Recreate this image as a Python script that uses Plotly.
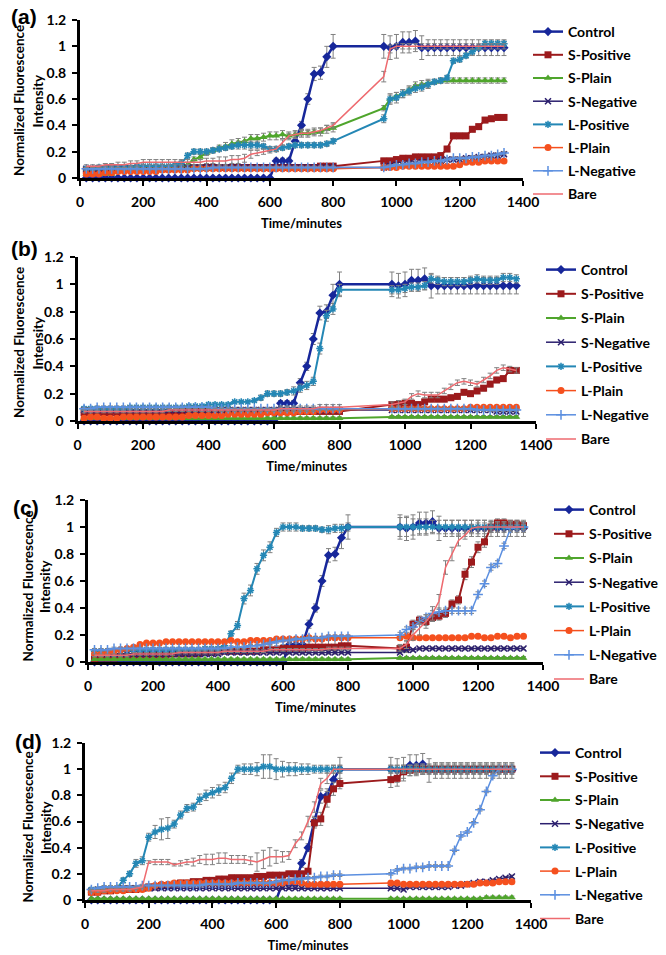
import plotly.graph_objects as go

# ---------------- data ----------------
TIME = [20, 40, 60, 80, 100, 120, 140, 160, 180, 200, 220, 240, 260, 280, 300, 320, 340, 360, 380, 400,
        420, 440, 460, 480, 500, 520, 540, 560, 580, 600, 620, 640, 660, 680, 700, 720, 740, 760, 780, 800,
        960, 980, 1000, 1020, 1040, 1060, 1080, 1100, 1120, 1140, 1160, 1180, 1200, 1220, 1240, 1260, 1280, 1300, 1320, 1340]

SERIES = ["Control", "S-Positive", "S-Plain", "S-Negative", "L-Positive", "L-Plain", "L-Negative", "Bare"]
X_TICKS = [0, 200, 400, 600, 800, 1000, 1200, 1400]
Y_TICKS = [0, 0.2, 0.4, 0.6, 0.8, 1, 1.2]
PANEL_LABELS = ["(a)", "(b)", "(c)", "(d)"]
X_TITLE = "Time/minutes"
Y_TITLE_LINES = ["Normalized Fluorescence", "Intensity"]

CONTROL = [0, 0, 0, 0, 0, 0, 0, 0, 0, 0, 0, 0, 0, 0, 0, 0, 0, 0, 0, 0,
           0, 0, 0, 0, 0, 0, 0, 0, 0, 0, 0.13, 0.13, 0.13, 0.28, 0.40, 0.60, 0.79, 0.80, 0.92, 1.00,
           1.00, 0.99, 1.00, 1.03, 1.03, 1.04, 0.99, 0.99, 0.99, 0.99, 0.99, 0.99, 0.99, 0.99, 0.99, 0.99, 0.99, 0.99, 0.99, 0.99]
CONTROL_ERR = [0.01, 0.01, 0.01, 0.01, 0.01, 0.01, 0.01, 0.01, 0.01, 0.01, 0.01, 0.01, 0.01, 0.01, 0.01, 0.01, 0.01, 0.01, 0.01, 0.01,
               0.01, 0.01, 0.01, 0.01, 0.01, 0.01, 0.01, 0.01, 0.01, 0.01, 0.02, 0.02, 0.02, 0.03, 0.03, 0.04, 0.05, 0.05, 0.08, 0.09,
               0.09, 0.09, 0.09, 0.08, 0.08, 0.08, 0.09, 0.06, 0.06, 0.06, 0.06, 0.06, 0.06, 0.06, 0.06, 0.06, 0.06, 0.06, 0.06, 0.06]

# ----- panel (a)
A_SPOS = [0.06, 0.06, 0.07, 0.07, 0.07, 0.07, 0.07, 0.07, 0.07, 0.07, 0.07, 0.07, 0.07, 0.07, 0.08, 0.08, 0.08, 0.08, 0.08, 0.08,
          0.08, 0.08, 0.08, 0.08, 0.08, 0.08, 0.08, 0.08, 0.08, 0.08, 0.08, 0.08, 0.08, 0.08, 0.08, 0.08, 0.08, 0.09, 0.09, 0.09,
          0.13, 0.13, 0.14, 0.15, 0.15, 0.16, 0.16, 0.16, 0.16, 0.17, 0.22, 0.32, 0.32, 0.32, 0.37, 0.39, 0.44, 0.45, 0.46, 0.46]
A_SPOS_ERR = [0.01, 0.01, 0.01, 0.01, 0.01, 0.01, 0.01, 0.01, 0.01, 0.01, 0.01, 0.01, 0.01, 0.01, 0.01, 0.01, 0.01, 0.01, 0.01, 0.01,
              0.01, 0.01, 0.01, 0.01, 0.01, 0.01, 0.01, 0.01, 0.01, 0.01, 0.01, 0.01, 0.01, 0.01, 0.01, 0.01, 0.01, 0.01, 0.01, 0.01,
              0.02, 0.02, 0.02, 0.02, 0.02, 0.02, 0.02, 0.02, 0.02, 0.02, 0.02, 0.02, 0.02, 0.02, 0.02, 0.02, 0.02, 0.02, 0.02, 0.02]
A_SPLN = [0.03, 0.03, 0.03, 0.03, 0.03, 0.05, 0.06, 0.06, 0.06, 0.06, 0.06, 0.07, 0.07, 0.07, 0.07, 0.08, 0.10, 0.14, 0.16, 0.19,
          0.21, 0.23, 0.24, 0.26, 0.27, 0.28, 0.30, 0.30, 0.31, 0.32, 0.32, 0.33, 0.32, 0.33, 0.34, 0.34, 0.35, 0.35, 0.37, 0.38,
          0.53, 0.60, 0.62, 0.64, 0.67, 0.70, 0.71, 0.72, 0.73, 0.74, 0.74, 0.74, 0.74, 0.74, 0.74, 0.74, 0.74, 0.74, 0.74, 0.74]
A_SPLN_ERR = [0.01, 0.01, 0.01, 0.01, 0.01, 0.01, 0.01, 0.01, 0.01, 0.01, 0.01, 0.01, 0.01, 0.01, 0.01, 0.01, 0.02, 0.02, 0.02, 0.02,
              0.02, 0.02, 0.03, 0.03, 0.03, 0.03, 0.03, 0.03, 0.03, 0.03, 0.03, 0.03, 0.03, 0.03, 0.03, 0.03, 0.03, 0.03, 0.03, 0.03,
              0.02, 0.03, 0.03, 0.03, 0.03, 0.03, 0.03, 0.03, 0.02, 0.02, 0.02, 0.02, 0.02, 0.02, 0.02, 0.02, 0.02, 0.02, 0.02, 0.02]
A_SNEG = [0.07, 0.07, 0.07, 0.07, 0.07, 0.07, 0.07, 0.07, 0.07, 0.07, 0.07, 0.07, 0.07, 0.07, 0.07, 0.08, 0.08, 0.08, 0.08, 0.08,
          0.08, 0.08, 0.08, 0.08, 0.08, 0.08, 0.08, 0.08, 0.08, 0.08, 0.08, 0.08, 0.08, 0.08, 0.08, 0.08, 0.08, 0.08, 0.08, 0.08,
          0.08, 0.09, 0.10, 0.10, 0.11, 0.11, 0.12, 0.12, 0.12, 0.13, 0.14, 0.14, 0.14, 0.15, 0.15, 0.16, 0.16, 0.17, 0.17, 0.18]
A_SNEG_ERR = [0.01, 0.01, 0.01, 0.01, 0.01, 0.01, 0.01, 0.01, 0.01, 0.01, 0.01, 0.01, 0.01, 0.01, 0.01, 0.01, 0.01, 0.01, 0.01, 0.01,
              0.01, 0.01, 0.01, 0.01, 0.01, 0.01, 0.01, 0.01, 0.01, 0.01, 0.01, 0.01, 0.01, 0.01, 0.01, 0.01, 0.01, 0.01, 0.01, 0.01,
              0.01, 0.01, 0.01, 0.01, 0.01, 0.01, 0.01, 0.01, 0.01, 0.01, 0.01, 0.01, 0.01, 0.01, 0.01, 0.01, 0.01, 0.01, 0.01, 0.01]
A_LPOS = [0.07, 0.07, 0.08, 0.08, 0.08, 0.08, 0.08, 0.08, 0.09, 0.09, 0.09, 0.09, 0.09, 0.09, 0.10, 0.11, 0.17, 0.20, 0.20, 0.20,
          0.21, 0.22, 0.23, 0.24, 0.25, 0.25, 0.25, 0.25, 0.24, 0.22, 0.22, 0.23, 0.24, 0.25, 0.25, 0.25, 0.25, 0.25, 0.26, 0.28,
          0.45, 0.60, 0.61, 0.64, 0.66, 0.68, 0.69, 0.71, 0.73, 0.74, 0.76, 0.89, 0.90, 0.93, 0.96, 0.99, 1.02, 1.02, 1.02, 1.02]
A_LPOS_ERR = [0.01, 0.01, 0.01, 0.01, 0.01, 0.01, 0.01, 0.01, 0.01, 0.01, 0.01, 0.01, 0.01, 0.01, 0.01, 0.02, 0.02, 0.02, 0.02, 0.02,
              0.02, 0.02, 0.02, 0.02, 0.03, 0.03, 0.03, 0.03, 0.02, 0.02, 0.02, 0.02, 0.02, 0.02, 0.02, 0.02, 0.02, 0.02, 0.02, 0.02,
              0.03, 0.04, 0.04, 0.03, 0.03, 0.03, 0.03, 0.03, 0.02, 0.02, 0.02, 0.02, 0.02, 0.02, 0.02, 0.02, 0.02, 0.02, 0.02, 0.02]
A_LPLN = [0.03, 0.03, 0.03, 0.04, 0.04, 0.05, 0.05, 0.05, 0.05, 0.05, 0.05, 0.05, 0.06, 0.06, 0.06, 0.06, 0.06, 0.07, 0.07, 0.07,
          0.07, 0.07, 0.07, 0.07, 0.07, 0.07, 0.07, 0.07, 0.07, 0.07, 0.07, 0.07, 0.07, 0.07, 0.07, 0.07, 0.07, 0.07, 0.07, 0.07,
          0.08, 0.08, 0.08, 0.09, 0.09, 0.09, 0.09, 0.09, 0.09, 0.09, 0.09, 0.09, 0.10, 0.12, 0.12, 0.12, 0.13, 0.13, 0.13, 0.13]
A_LPLN_ERR = A_SNEG_ERR
A_LNEG = [0.07, 0.07, 0.07, 0.07, 0.07, 0.07, 0.07, 0.07, 0.07, 0.07, 0.07, 0.07, 0.07, 0.07, 0.07, 0.07, 0.07, 0.07, 0.07, 0.07,
          0.08, 0.08, 0.08, 0.08, 0.08, 0.08, 0.08, 0.08, 0.08, 0.08, 0.08, 0.08, 0.08, 0.08, 0.08, 0.08, 0.08, 0.08, 0.08, 0.08,
          0.08, 0.09, 0.10, 0.10, 0.11, 0.11, 0.12, 0.12, 0.13, 0.13, 0.14, 0.15, 0.15, 0.15, 0.16, 0.16, 0.17, 0.17, 0.18, 0.19]
A_LNEG_ERR = A_SNEG_ERR
A_BARE = [0.09, 0.09, 0.09, 0.10, 0.10, 0.10, 0.10, 0.11, 0.11, 0.12, 0.12, 0.12, 0.12, 0.12, 0.12, 0.12, 0.12, 0.12, 0.12, 0.13,
          0.13, 0.13, 0.13, 0.14, 0.14, 0.15, 0.18, 0.19, 0.20, 0.21, 0.22, 0.27, 0.32, 0.33, 0.34, 0.34, 0.35, 0.36, 0.38, 0.40,
          0.77, 0.98, 1.00, 1.00, 1.00, 1.00, 1.00, 1.00, 1.00, 1.00, 1.00, 1.00, 1.00, 1.00, 1.00, 1.00, 1.00, 1.00, 1.00, 1.00]
A_BARE_ERR = [0.01, 0.01, 0.01, 0.01, 0.01, 0.02, 0.02, 0.02, 0.02, 0.02, 0.02, 0.02, 0.02, 0.02, 0.02, 0.02, 0.02, 0.02, 0.02, 0.02,
              0.02, 0.03, 0.03, 0.03, 0.03, 0.03, 0.03, 0.02, 0.02, 0.02, 0.02, 0.02, 0.02, 0.02, 0.02, 0.02, 0.02, 0.02, 0.02, 0.02,
              0.04, 0.03, 0.02, 0.02, 0.02, 0.02, 0.02, 0.02, 0.02, 0.02, 0.02, 0.02, 0.02, 0.02, 0.02, 0.02, 0.02, 0.02, 0.02, 0.02]

# ----- panel (b)
B_SPOS = [0.06, 0.06, 0.06, 0.06, 0.06, 0.06, 0.06, 0.06, 0.06, 0.06, 0.06, 0.06, 0.06, 0.06, 0.06, 0.07, 0.07, 0.07, 0.07, 0.07,
          0.07, 0.07, 0.07, 0.07, 0.07, 0.07, 0.07, 0.07, 0.07, 0.07, 0.07, 0.07, 0.07, 0.07, 0.07, 0.07, 0.07, 0.07, 0.07, 0.07,
          0.12, 0.12, 0.13, 0.13, 0.12, 0.14, 0.16, 0.16, 0.16, 0.17, 0.18, 0.21, 0.20, 0.22, 0.24, 0.27, 0.30, 0.31, 0.37, 0.37]
B_SPOS_ERR = A_SPOS_ERR
B_SPLN = [0.02, 0.02, 0.02, 0.02, 0.02, 0.02, 0.02, 0.02, 0.02, 0.02, 0.02, 0.02, 0.02, 0.02, 0.02, 0.02, 0.02, 0.02, 0.02, 0.02,
          0.02, 0.02, 0.02, 0.02, 0.02, 0.02, 0.02, 0.02, 0.02, 0.02, 0.02, 0.02, 0.02, 0.02, 0.02, 0.02, 0.02, 0.02, 0.02, 0.02,
          0.03, 0.03, 0.03, 0.03, 0.03, 0.03, 0.03, 0.03, 0.03, 0.03, 0.03, 0.03, 0.03, 0.03, 0.03, 0.03, 0.03, 0.03, 0.03, 0.03]
B_SPLN_ERR = A_SNEG_ERR
B_SNEG = [0.08, 0.08, 0.08, 0.08, 0.08, 0.08, 0.08, 0.08, 0.08, 0.08, 0.08, 0.08, 0.08, 0.08, 0.08, 0.08, 0.08, 0.08, 0.08, 0.08,
          0.08, 0.08, 0.08, 0.08, 0.08, 0.08, 0.08, 0.08, 0.08, 0.08, 0.08, 0.08, 0.08, 0.08, 0.08, 0.08, 0.08, 0.08, 0.08, 0.08,
          0.08, 0.08, 0.08, 0.08, 0.08, 0.08, 0.08, 0.08, 0.08, 0.08, 0.08, 0.08, 0.08, 0.08, 0.08, 0.08, 0.07, 0.07, 0.07, 0.07]
B_SNEG_ERR = A_SNEG_ERR
B_LPOS = [0.09, 0.09, 0.09, 0.09, 0.09, 0.09, 0.09, 0.10, 0.10, 0.10, 0.10, 0.10, 0.10, 0.10, 0.10, 0.10, 0.11, 0.11, 0.11, 0.12,
          0.12, 0.12, 0.12, 0.14, 0.14, 0.14, 0.15, 0.17, 0.20, 0.20, 0.20, 0.21, 0.22, 0.24, 0.26, 0.29, 0.53, 0.77, 0.82, 0.96,
          0.96, 0.96, 0.97, 0.98, 0.98, 0.99, 1.04, 1.03, 1.02, 1.02, 1.02, 1.02, 1.03, 1.04, 1.03, 1.03, 1.03, 1.05, 1.05, 1.04]
B_LPOS_ERR = [0.01, 0.01, 0.01, 0.01, 0.01, 0.01, 0.01, 0.01, 0.01, 0.01, 0.01, 0.01, 0.01, 0.01, 0.01, 0.01, 0.01, 0.01, 0.01, 0.01,
              0.01, 0.01, 0.01, 0.01, 0.01, 0.01, 0.01, 0.02, 0.02, 0.02, 0.02, 0.02, 0.03, 0.03, 0.03, 0.03, 0.04, 0.04, 0.04, 0.04,
              0.03, 0.03, 0.03, 0.03, 0.03, 0.03, 0.03, 0.03, 0.03, 0.03, 0.03, 0.03, 0.03, 0.03, 0.03, 0.03, 0.03, 0.03, 0.03, 0.03]
B_LPLN = [0.02, 0.03, 0.03, 0.02, 0.02, 0.02, 0.03, 0.03, 0.03, 0.03, 0.03, 0.03, 0.03, 0.03, 0.03, 0.03, 0.04, 0.04, 0.04, 0.04,
          0.04, 0.04, 0.05, 0.05, 0.05, 0.05, 0.05, 0.05, 0.06, 0.06, 0.06, 0.06, 0.06, 0.07, 0.07, 0.07, 0.08, 0.08, 0.08, 0.08,
          0.09, 0.09, 0.09, 0.09, 0.09, 0.09, 0.09, 0.09, 0.09, 0.09, 0.09, 0.09, 0.10, 0.10, 0.10, 0.10, 0.10, 0.10, 0.10, 0.10]
B_LPLN_ERR = A_SNEG_ERR
B_LNEG = [0.09, 0.09, 0.10, 0.10, 0.10, 0.10, 0.10, 0.10, 0.10, 0.10, 0.10, 0.10, 0.10, 0.10, 0.10, 0.10, 0.10, 0.10, 0.10, 0.10,
          0.09, 0.09, 0.09, 0.09, 0.09, 0.09, 0.09, 0.09, 0.09, 0.09, 0.09, 0.09, 0.09, 0.09, 0.09, 0.09, 0.09, 0.09, 0.09, 0.09,
          0.09, 0.09, 0.09, 0.09, 0.09, 0.09, 0.09, 0.09, 0.09, 0.09, 0.09, 0.09, 0.09, 0.08, 0.08, 0.08, 0.08, 0.08, 0.08, 0.08]
B_LNEG_ERR = A_SNEG_ERR
B_BARE = [0.07, 0.07, 0.07, 0.07, 0.07, 0.07, 0.07, 0.07, 0.07, 0.07, 0.07, 0.07, 0.07, 0.08, 0.08, 0.08, 0.08, 0.08, 0.08, 0.08,
          0.08, 0.08, 0.08, 0.08, 0.08, 0.08, 0.08, 0.08, 0.08, 0.08, 0.09, 0.09, 0.09, 0.09, 0.09, 0.09, 0.10, 0.10, 0.10, 0.10,
          0.12, 0.13, 0.14, 0.18, 0.20, 0.19, 0.19, 0.19, 0.22, 0.25, 0.28, 0.29, 0.28, 0.27, 0.30, 0.33, 0.37, 0.39, 0.38, 0.37]
B_BARE_ERR = [0.01, 0.01, 0.01, 0.01, 0.01, 0.01, 0.01, 0.01, 0.01, 0.01, 0.01, 0.01, 0.01, 0.01, 0.01, 0.01, 0.01, 0.01, 0.01, 0.01,
              0.01, 0.01, 0.01, 0.01, 0.01, 0.01, 0.01, 0.01, 0.01, 0.01, 0.02, 0.02, 0.02, 0.02, 0.02, 0.02, 0.02, 0.02, 0.02, 0.02,
              0.02, 0.02, 0.02, 0.02, 0.02, 0.02, 0.02, 0.02, 0.02, 0.02, 0.02, 0.02, 0.02, 0.02, 0.02, 0.02, 0.02, 0.02, 0.02, 0.02]

# ----- panel (c)
C_SPOS = [0.02, 0.03, 0.03, 0.03, 0.04, 0.04, 0.04, 0.05, 0.05, 0.05, 0.05, 0.05, 0.06, 0.06, 0.06, 0.06, 0.06, 0.07, 0.07, 0.08,
          0.08, 0.08, 0.08, 0.08, 0.08, 0.08, 0.09, 0.09, 0.09, 0.10, 0.10, 0.10, 0.10, 0.11, 0.11, 0.11, 0.11, 0.11, 0.12, 0.12,
          0.10, 0.11, 0.28, 0.31, 0.30, 0.33, 0.34, 0.36, 0.43, 0.46, 0.65, 0.74, 0.85, 0.89, 1.00, 1.03, 1.03, 1.02, 1.02, 1.01]
C_SPOS_ERR = [0.01, 0.01, 0.01, 0.01, 0.01, 0.01, 0.01, 0.01, 0.01, 0.01, 0.01, 0.01, 0.01, 0.01, 0.01, 0.01, 0.01, 0.01, 0.02, 0.02,
              0.02, 0.02, 0.02, 0.02, 0.02, 0.02, 0.02, 0.03, 0.03, 0.03, 0.04, 0.04, 0.04, 0.04, 0.05, 0.05, 0.05, 0.05, 0.05, 0.05,
              0.03, 0.04, 0.03, 0.03, 0.03, 0.03, 0.03, 0.03, 0.03, 0.03, 0.04, 0.04, 0.04, 0.04, 0.04, 0.03, 0.03, 0.03, 0.03, 0.03]
C_SPLN = B_SPLN
C_SPLN_ERR = A_SNEG_ERR
C_SNEG = [0.06, 0.06, 0.06, 0.06, 0.06, 0.06, 0.06, 0.06, 0.06, 0.06, 0.06, 0.06, 0.06, 0.06, 0.06, 0.06, 0.06, 0.06, 0.06, 0.06,
          0.07, 0.07, 0.07, 0.07, 0.07, 0.07, 0.07, 0.07, 0.07, 0.07, 0.07, 0.07, 0.07, 0.07, 0.07, 0.07, 0.07, 0.07, 0.07, 0.07,
          0.07, 0.09, 0.09, 0.10, 0.10, 0.10, 0.10, 0.10, 0.10, 0.10, 0.10, 0.10, 0.10, 0.10, 0.10, 0.10, 0.10, 0.10, 0.10, 0.10]
C_SNEG_ERR = A_SNEG_ERR
C_LPOS = [0.08, 0.08, 0.08, 0.08, 0.09, 0.09, 0.09, 0.09, 0.09, 0.09, 0.09, 0.09, 0.09, 0.09, 0.09, 0.09, 0.09, 0.10, 0.10, 0.10,
          0.12, 0.21, 0.27, 0.47, 0.53, 0.69, 0.79, 0.85, 0.96, 1.00, 1.00, 1.00, 0.99, 0.99, 0.99, 0.98, 0.98, 0.99, 0.99, 1.00,
          1.00, 1.00, 1.00, 1.00, 1.00, 1.00, 1.00, 1.00, 1.00, 1.00, 1.00, 1.00, 1.00, 1.00, 1.00, 1.00, 1.00, 1.00, 1.00, 1.00]
C_LPOS_ERR = [0.01, 0.01, 0.01, 0.01, 0.01, 0.01, 0.01, 0.01, 0.01, 0.01, 0.01, 0.01, 0.01, 0.01, 0.01, 0.01, 0.01, 0.01, 0.01, 0.01,
              0.02, 0.02, 0.03, 0.04, 0.04, 0.04, 0.04, 0.04, 0.03, 0.03, 0.03, 0.03, 0.02, 0.02, 0.02, 0.02, 0.03, 0.03, 0.03, 0.03,
              0.07, 0.07, 0.06, 0.06, 0.06, 0.05, 0.05, 0.05, 0.05, 0.05, 0.05, 0.05, 0.05, 0.05, 0.04, 0.04, 0.04, 0.04, 0.04, 0.04]
C_LPLN = [0.06, 0.06, 0.07, 0.08, 0.09, 0.10, 0.11, 0.13, 0.14, 0.14, 0.14, 0.15, 0.15, 0.15, 0.15, 0.15, 0.15, 0.15, 0.15, 0.15,
          0.15, 0.16, 0.15, 0.15, 0.16, 0.16, 0.16, 0.16, 0.17, 0.17, 0.17, 0.17, 0.17, 0.18, 0.17, 0.17, 0.18, 0.18, 0.18, 0.18,
          0.18, 0.19, 0.18, 0.18, 0.18, 0.18, 0.18, 0.18, 0.18, 0.18, 0.18, 0.19, 0.19, 0.18, 0.18, 0.19, 0.19, 0.18, 0.19, 0.19]
C_LPLN_ERR = A_SNEG_ERR
C_LNEG = [0.09, 0.09, 0.09, 0.10, 0.10, 0.10, 0.10, 0.10, 0.10, 0.10, 0.10, 0.10, 0.10, 0.10, 0.10, 0.10, 0.10, 0.10, 0.10, 0.10,
          0.10, 0.11, 0.11, 0.11, 0.12, 0.12, 0.13, 0.14, 0.15, 0.16, 0.16, 0.17, 0.17, 0.18, 0.18, 0.18, 0.19, 0.19, 0.19, 0.19,
          0.20, 0.24, 0.26, 0.30, 0.33, 0.36, 0.37, 0.38, 0.38, 0.38, 0.38, 0.38, 0.50, 0.58, 0.70, 0.73, 0.86, 0.99, 1.00, 1.00]
C_LNEG_ERR = [0.01, 0.01, 0.01, 0.01, 0.01, 0.01, 0.01, 0.01, 0.01, 0.01, 0.01, 0.01, 0.01, 0.01, 0.01, 0.01, 0.01, 0.01, 0.01, 0.01,
              0.01, 0.01, 0.01, 0.01, 0.01, 0.01, 0.01, 0.01, 0.01, 0.01, 0.01, 0.01, 0.01, 0.01, 0.01, 0.01, 0.01, 0.01, 0.01, 0.01,
              0.02, 0.02, 0.02, 0.02, 0.02, 0.02, 0.02, 0.02, 0.02, 0.02, 0.02, 0.02, 0.02, 0.02, 0.02, 0.02, 0.02, 0.02, 0.02, 0.02]
C_BARE = [0.05, 0.05, 0.05, 0.05, 0.05, 0.05, 0.06, 0.06, 0.06, 0.06, 0.06, 0.06, 0.06, 0.07, 0.07, 0.07, 0.07, 0.07, 0.07, 0.07,
          0.08, 0.08, 0.08, 0.08, 0.08, 0.08, 0.08, 0.09, 0.09, 0.09, 0.09, 0.09, 0.09, 0.09, 0.09, 0.09, 0.10, 0.10, 0.10, 0.10,
          0.10, 0.13, 0.20, 0.25, 0.30, 0.36, 0.45, 0.70, 0.80, 0.90, 0.94, 0.99, 1.00, 1.00, 1.00, 1.00, 1.00, 1.00, 1.00, 1.00]
C_BARE_ERR = [0.01, 0.01, 0.01, 0.01, 0.01, 0.01, 0.01, 0.01, 0.01, 0.01, 0.01, 0.01, 0.01, 0.01, 0.01, 0.01, 0.01, 0.01, 0.01, 0.01,
              0.01, 0.01, 0.01, 0.01, 0.01, 0.01, 0.01, 0.01, 0.01, 0.01, 0.01, 0.01, 0.01, 0.01, 0.01, 0.01, 0.01, 0.01, 0.01, 0.01,
              0.02, 0.03, 0.04, 0.05, 0.05, 0.05, 0.05, 0.05, 0.05, 0.04, 0.03, 0.03, 0.03, 0.03, 0.03, 0.03, 0.03, 0.03, 0.03, 0.03]

# ----- panel (d)
D_SPOS = [0.06, 0.06, 0.07, 0.07, 0.08, 0.08, 0.08, 0.08, 0.09, 0.10, 0.10, 0.11, 0.11, 0.12, 0.13, 0.13, 0.14, 0.14, 0.15, 0.15,
          0.16, 0.16, 0.17, 0.17, 0.17, 0.17, 0.18, 0.18, 0.19, 0.19, 0.19, 0.20, 0.20, 0.20, 0.22, 0.59, 0.62, 0.77, 0.85, 0.89,
          0.92, 0.93, 0.98, 0.99, 1.00, 1.00, 1.00, 1.00, 1.00, 1.00, 1.00, 1.00, 1.00, 1.00, 1.00, 1.00, 1.00, 1.00, 1.00, 1.00]
D_SPOS_ERR = [0.01, 0.01, 0.01, 0.01, 0.01, 0.01, 0.01, 0.01, 0.01, 0.01, 0.01, 0.01, 0.01, 0.02, 0.02, 0.02, 0.02, 0.02, 0.02, 0.02,
              0.02, 0.02, 0.02, 0.02, 0.02, 0.02, 0.02, 0.02, 0.02, 0.02, 0.02, 0.02, 0.02, 0.02, 0.02, 0.04, 0.05, 0.06, 0.05, 0.04,
              0.06, 0.06, 0.05, 0.04, 0.04, 0.04, 0.04, 0.04, 0.04, 0.04, 0.04, 0.04, 0.04, 0.04, 0.04, 0.04, 0.04, 0.04, 0.04, 0.04]
D_SPLN = [0.01, 0.01, 0.01, 0.01, 0.01, 0.01, 0.01, 0.01, 0.01, 0.01, 0.01, 0.01, 0.01, 0.01, 0.01, 0.01, 0.01, 0.01, 0.01, 0.01,
          0.01, 0.01, 0.01, 0.01, 0.01, 0.01, 0.01, 0.01, 0.01, 0.01, 0.01, 0.01, 0.01, 0.01, 0.01, 0.01, 0.01, 0.01, 0.01, 0.01,
          0.01, 0.01, 0.01, 0.01, 0.01, 0.01, 0.01, 0.01, 0.01, 0.01, 0.01, 0.01, 0.01, 0.01, 0.01, 0.02, 0.02, 0.02, 0.02, 0.02]
D_SPLN_ERR = A_SNEG_ERR
D_SNEG = [0.07, 0.08, 0.08, 0.08, 0.08, 0.09, 0.09, 0.09, 0.09, 0.09, 0.09, 0.09, 0.09, 0.09, 0.09, 0.09, 0.09, 0.09, 0.09, 0.09,
          0.09, 0.09, 0.09, 0.09, 0.09, 0.09, 0.09, 0.09, 0.09, 0.09, 0.09, 0.09, 0.09, 0.09, 0.09, 0.09, 0.09, 0.09, 0.09, 0.09,
          0.09, 0.09, 0.08, 0.10, 0.10, 0.10, 0.10, 0.10, 0.10, 0.10, 0.11, 0.11, 0.12, 0.13, 0.14, 0.14, 0.15, 0.16, 0.17, 0.18]
D_SNEG_ERR = A_SNEG_ERR
D_LPOS = [0.08, 0.08, 0.09, 0.09, 0.09, 0.15, 0.20, 0.28, 0.30, 0.48, 0.52, 0.54, 0.55, 0.58, 0.65, 0.70, 0.71, 0.77, 0.80, 0.82,
          0.84, 0.86, 0.93, 1.00, 1.00, 1.00, 1.00, 1.02, 1.02, 1.00, 1.00, 1.00, 1.00, 1.00, 1.00, 1.00, 1.00, 1.00, 1.00, 1.00,
          1.00, 1.00, 1.00, 1.00, 1.00, 1.00, 1.00, 1.00, 1.00, 1.00, 1.00, 1.00, 1.00, 1.00, 1.00, 1.00, 1.00, 1.00, 1.00, 1.00]
D_LPOS_ERR = [0.01, 0.01, 0.01, 0.01, 0.01, 0.02, 0.02, 0.03, 0.03, 0.03, 0.05, 0.08, 0.08, 0.03, 0.03, 0.03, 0.03, 0.04, 0.04, 0.04,
              0.04, 0.04, 0.04, 0.03, 0.04, 0.04, 0.05, 0.09, 0.09, 0.08, 0.06, 0.05, 0.05, 0.04, 0.04, 0.03, 0.03, 0.03, 0.03, 0.03,
              0.03, 0.03, 0.03, 0.03, 0.03, 0.03, 0.03, 0.03, 0.03, 0.03, 0.03, 0.03, 0.03, 0.03, 0.03, 0.03, 0.03, 0.03, 0.03, 0.03]
D_LPLN = [0.06, 0.06, 0.07, 0.07, 0.07, 0.07, 0.08, 0.08, 0.08, 0.09, 0.11, 0.12, 0.12, 0.13, 0.13, 0.13, 0.13, 0.13, 0.13, 0.13,
          0.13, 0.13, 0.13, 0.13, 0.13, 0.13, 0.13, 0.13, 0.13, 0.13, 0.13, 0.14, 0.14, 0.13, 0.12, 0.12, 0.12, 0.12, 0.12, 0.12,
          0.13, 0.13, 0.12, 0.12, 0.12, 0.12, 0.12, 0.12, 0.12, 0.12, 0.12, 0.12, 0.12, 0.12, 0.13, 0.13, 0.13, 0.14, 0.14, 0.14]
D_LPLN_ERR = A_SNEG_ERR
D_LNEG = [0.08, 0.09, 0.10, 0.10, 0.10, 0.10, 0.10, 0.10, 0.11, 0.11, 0.11, 0.11, 0.11, 0.11, 0.11, 0.11, 0.11, 0.11, 0.12, 0.12,
          0.12, 0.12, 0.12, 0.13, 0.13, 0.13, 0.13, 0.13, 0.13, 0.14, 0.15, 0.15, 0.16, 0.16, 0.17, 0.17, 0.18, 0.18, 0.19, 0.19,
          0.20, 0.23, 0.24, 0.24, 0.25, 0.25, 0.26, 0.26, 0.26, 0.26, 0.38, 0.49, 0.52, 0.59, 0.69, 0.83, 0.95, 1.00, 1.00, 1.00]
D_LNEG_ERR = A_SNEG_ERR
D_BARE = [0.07, 0.07, 0.07, 0.08, 0.08, 0.08, 0.08, 0.09, 0.10, 0.29, 0.29, 0.29, 0.29, 0.27, 0.28, 0.29, 0.29, 0.31, 0.31, 0.31,
          0.32, 0.32, 0.31, 0.31, 0.31, 0.30, 0.29, 0.31, 0.33, 0.33, 0.33, 0.34, 0.43, 0.49, 0.60, 0.71, 0.89, 0.93, 1.00, 1.00,
          1.00, 1.00, 1.00, 1.00, 1.00, 1.00, 1.00, 1.00, 1.00, 1.00, 1.00, 1.00, 1.00, 1.00, 1.00, 1.00, 1.00, 1.00, 1.00, 1.00]
D_BARE_ERR = [0.01, 0.01, 0.01, 0.01, 0.01, 0.01, 0.01, 0.01, 0.01, 0.01, 0.02, 0.02, 0.02, 0.01, 0.02, 0.02, 0.03, 0.03, 0.04, 0.04,
              0.04, 0.04, 0.03, 0.03, 0.03, 0.03, 0.07, 0.07, 0.07, 0.05, 0.04, 0.03, 0.03, 0.03, 0.04, 0.04, 0.04, 0.04, 0.03, 0.03,
              0.03, 0.03, 0.03, 0.03, 0.03, 0.03, 0.03, 0.03, 0.03, 0.03, 0.03, 0.03, 0.03, 0.03, 0.03, 0.03, 0.03, 0.03, 0.03, 0.03]

PANELS = [
    [(CONTROL, CONTROL_ERR), (A_SPOS, A_SPOS_ERR), (A_SPLN, A_SPLN_ERR), (A_SNEG, A_SNEG_ERR),
     (A_LPOS, A_LPOS_ERR), (A_LPLN, A_LPLN_ERR), (A_LNEG, A_LNEG_ERR), (A_BARE, A_BARE_ERR)],
    [(CONTROL, CONTROL_ERR), (B_SPOS, B_SPOS_ERR), (B_SPLN, B_SPLN_ERR), (B_SNEG, B_SNEG_ERR),
     (B_LPOS, B_LPOS_ERR), (B_LPLN, B_LPLN_ERR), (B_LNEG, B_LNEG_ERR), (B_BARE, B_BARE_ERR)],
    [(CONTROL, CONTROL_ERR), (C_SPOS, C_SPOS_ERR), (C_SPLN, C_SPLN_ERR), (C_SNEG, C_SNEG_ERR),
     (C_LPOS, C_LPOS_ERR), (C_LPLN, C_LPLN_ERR), (C_LNEG, C_LNEG_ERR), (C_BARE, C_BARE_ERR)],
    [(CONTROL, CONTROL_ERR), (D_SPOS, D_SPOS_ERR), (D_SPLN, D_SPLN_ERR), (D_SNEG, D_SNEG_ERR),
     (D_LPOS, D_LPOS_ERR), (D_LPLN, D_LPLN_ERR), (D_LNEG, D_LNEG_ERR), (D_BARE, D_BARE_ERR)],
]

# ---------------- styles ----------------
STYLE = {
    "Control":    dict(color="#17279A", symbol="diamond", size=7, lw=2.5, open=False),
    "S-Positive": dict(color="#9C1A1C", symbol="square", size=7, lw=2, open=False),
    "S-Plain":    dict(color="#4FA52C", symbol="triangle-up", size=7, lw=2, open=False),
    "S-Negative": dict(color="#2B1F6E", symbol="x-thin-open", size=6, lw=1.5, open=True),
    "L-Positive": dict(color="#2487B5", symbol="asterisk-open", size=6, lw=2, open=True),
    "L-Plain":    dict(color="#F5501E", symbol="circle", size=7, lw=1.5, open=False),
    "L-Negative": dict(color="#5B8FE0", symbol="cross-thin-open", size=7, lw=1.5, open=True),
    "Bare":       dict(color="#EE6A6F", symbol=None, size=0, lw=1.5, open=False),
}

FONT = "Lato, 'Open Sans', Arial, sans-serif"
W, H = 666, 955

# pixel geometry of each panel: (x of 0, x of 1400, y of 0, y of 1.2)
GEOM = [(80, 523, 178, 20), (77.5, 536, 421, 257), (88, 543, 662, 500), (85, 531, 900, 743)]
# legend left x, legend top y, group gap (pixels)
LEG = [(528, 16, 2), (541, 254, 3), (549, 494, 3), (535, 737, 2.5)]
LABEL_POS = [(24, 16), (24, 249), (26, 508), (28, 741)]
# y-title: x of line 1, x of line 2, y centre (pixels)
YT_POS = [(19, 37.5, 101), (19, 37.5, 343), (27.5, 45, 586), (27.5, 46, 827)]

fig = go.Figure()
for p, panel in enumerate(PANELS):
    sfx = "" if p == 0 else str(p + 1)
    for i, (name, (vals, err)) in enumerate(zip(SERIES, panel)):
        st = STYLE[name]
        if st["symbol"] is None:
            mode, marker = "lines", dict(size=1)
        elif st["open"]:
            mode = "lines+markers"
            marker = dict(symbol=st["symbol"], size=st["size"], color=st["color"],
                          line=dict(color=st["color"], width=1.5))
        else:
            mode = "lines+markers"
            marker = dict(symbol=st["symbol"], size=st["size"], color=st["color"],
                          line=dict(width=0))
        fig.add_trace(go.Scatter(
            x=TIME, y=vals, name=name, mode=mode, marker=marker,
            line=dict(color=st["color"], width=st["lw"]),
            error_y=dict(type="data", array=err, visible=True, color="#808080", thickness=1, width=2.5),
            xaxis="x" + sfx, yaxis="y" + sfx, legend="legend" + sfx,
            legendgroup=f"p{p}s{i}", cliponaxis=False,
        ))

layout = dict(
    width=W, height=H, margin=dict(l=0, r=0, t=0, b=0, autoexpand=False),
    paper_bgcolor="white", plot_bgcolor="white",
    font=dict(family=FONT, color="black", size=13, weight="bold"),
    showlegend=True, annotations=[],
)
for p, (x0, x1, y0, y1) in enumerate(GEOM):
    sfx = "" if p == 0 else str(p + 1)
    ax = dict(
        domain=[x0 / W, x1 / W], range=[0, 1400], tickvals=X_TICKS,
        showline=True, linewidth=3, linecolor="black", ticks="outside", ticklen=5, tickwidth=2,
        tickcolor="black", showgrid=False, zeroline=False, anchor="y" + sfx, automargin=False,
        tickfont=dict(family=FONT, size=14, weight="bold", color="black"), ticklabelstandoff=4,
        title=dict(text=X_TITLE, font=dict(family=FONT, size=13, weight="bold"), standoff=11),
    )
    ay = dict(
        domain=[1 - y0 / H, 1 - y1 / H], range=[0, 1.2], tickvals=Y_TICKS,
        showline=True, linewidth=3, linecolor="black", ticks="outside", ticklen=5, tickwidth=2,
        tickcolor="black", showgrid=False, zeroline=False, anchor="x" + sfx, automargin=False,
        tickfont=dict(family=FONT, size=14, weight="bold", color="black"), ticklabelstandoff=3,
    )
    layout["xaxis" + sfx] = ax
    layout["yaxis" + sfx] = ay
    lx, ly, gap = LEG[p]
    layout["legend" + sfx] = dict(
        x=lx / W, y=1 - ly / H, xanchor="left", yanchor="top", bgcolor="rgba(0,0,0,0)",
        font=dict(family=FONT, size=14, weight="bold", color="black"), tracegroupgap=gap,
        traceorder="grouped",
    )
    ax_, ay_ = LABEL_POS[p]
    layout["annotations"].append(dict(
        text=PANEL_LABELS[p], x=ax_ / W, y=1 - ay_ / H, xref="paper", yref="paper",
        showarrow=False, xanchor="center", yanchor="middle",
        font=dict(family="Liberation Sans, Arial, sans-serif", size=21, weight="bold", color="black"),
    ))
    t1x, t2x, tyc = YT_POS[p]
    for txt, tx in zip(Y_TITLE_LINES, (t1x, t2x)):
        layout["annotations"].append(dict(
            text=txt, x=tx / W, y=1 - tyc / H, xref="paper", yref="paper", textangle=-90,
            showarrow=False, xanchor="center", yanchor="middle",
            font=dict(family=FONT, size=13.5, weight="bold", color="black"),
        ))

fig.update_layout(**layout)
# remove the browser's default page margin so the figure fills the window exactly
fig.write_html("out.html", config={"displayModeBar": False},
               post_script="document.body.style.margin='0';")
